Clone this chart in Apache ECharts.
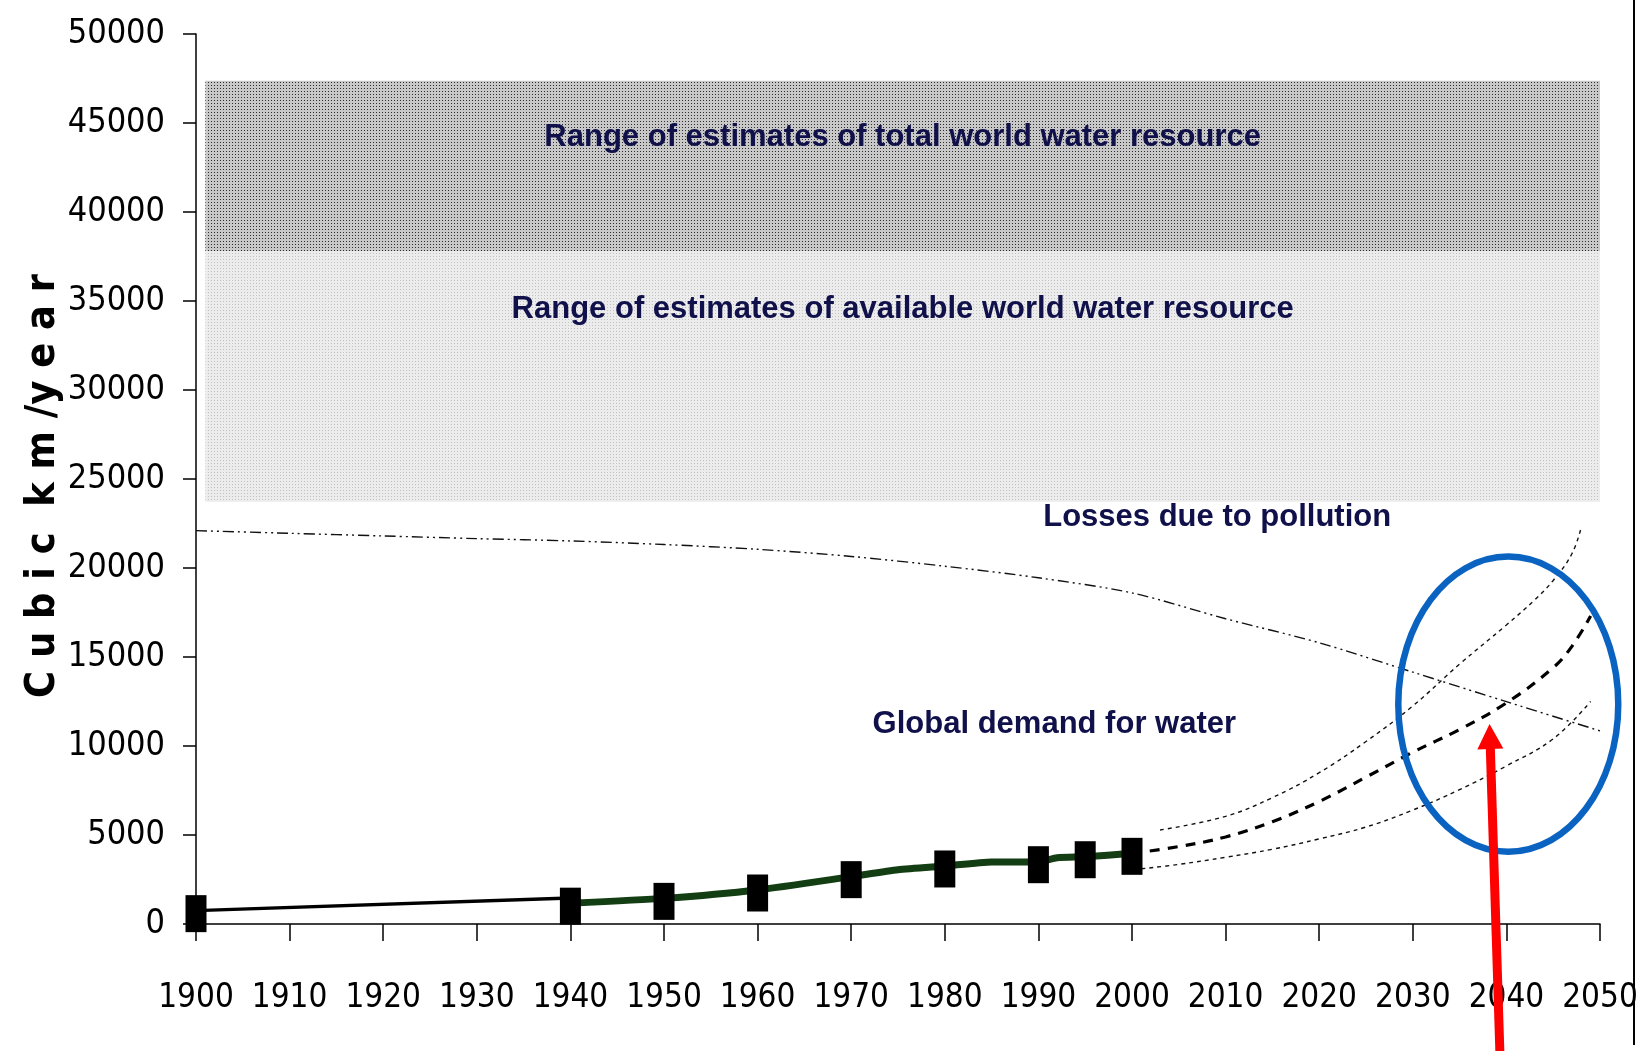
<!DOCTYPE html>
<html>
<head>
<meta charset="utf-8">
<script src="https://cdn.jsdelivr.net/npm/echarts@6/dist/echarts.min.js"></script>
<style>
html,body{margin:0;padding:0;background:#fff;}
#chart{width:1636px;height:1051px;}
</style>
</head>
<body>
<div id="chart"></div>
<script>
// ---------- data ----------
const xTickLabels = ['1900','1910','1920','1930','1940','1950','1960','1970','1980','1990','2000','2010','2020','2030','2040','2050'];
const yTickLabels = ['0','5000','10000','15000','20000','25000','30000','35000','40000','45000','50000'];

// range bands [fromYear, toYear, low, high]
const totalResourceBand = [1901, 2050, 37790, 47370];
const availableResourceBand = [1901, 2050, 23720, 37790];

// observed global demand (markers)
const obsYears = [1900, 1940, 1950, 1960, 1970, 1980, 1990, 1995, 2000];
const obsDemand = [750, 1170, 1440, 1910, 2660, 3260, 3500, 3780, 3970];

// early thin line 1900-1940
const earlyYears = [1900, 1940];
const earlyDemand = [750, 1460];

// thick observed line 1940-2000
const histYears = [1940, 1950, 1960, 1970, 1975, 1980, 1985, 1990, 1992, 1995, 2000];
const histDemand = [1170, 1440, 1910, 2660, 3050, 3260, 3480, 3500, 3720, 3780, 3970];

// projections
const midYears = [2000, 2005, 2010, 2015, 2020, 2025, 2030, 2035, 2040, 2045, 2047, 2049];
const midDemand = [3970, 4350, 4890, 5750, 6880, 8250, 9650, 10930, 12420, 14400, 15600, 17300];
const highYears = [2003, 2010, 2015, 2020, 2025, 2030, 2035, 2040, 2043, 2045, 2047, 2048];
const highDemand = [5280, 6050, 7100, 8500, 10250, 12250, 14600, 16800, 18200, 19300, 20800, 22300];
const lowYears = [2001, 2005, 2010, 2015, 2020, 2025, 2030, 2035, 2040, 2045, 2049];
const lowDemand = [3100, 3350, 3750, 4200, 4780, 5450, 6400, 7550, 8880, 10400, 12500];

// losses due to pollution
const pollYears = [1900, 1910, 1920, 1930, 1940, 1950, 1960, 1970, 1980, 1990, 2000, 2010, 2020, 2030, 2040, 2050];
const pollValues = [22100, 21950, 21800, 21650, 21520, 21320, 21050, 20650, 20100, 19450, 18600, 17150, 15800, 14150, 12490, 10850];

// text annotations
const noteYears = [1975.5, 1975.5, 2009.1, 1991.7];
const noteValues = [44200, 34550, 22840, 11230];
const noteTexts = [
  'Range of estimates of total world water resource',
  'Range of estimates of available world water resource',
  'Losses due to pollution',
  'Global demand for water'
];

// highlight ellipse (data coords) and arrow
const ellipseCenter = [2040.2, 12350];
const ellipseRadius = [11.75, 8290];
const arrowTip = [2038.2, 11236];
const arrowBase = [2039.3, -7140];

// ---------- helpers ----------
function zip(xs, ys) { return xs.map((x, i) => [x, ys[i]]); }
function makePattern(bg, dot, period, dotSize) {
  const c = document.createElement('canvas');
  c.width = period; c.height = period;
  const ctx = c.getContext('2d');
  ctx.fillStyle = bg; ctx.fillRect(0, 0, period, period);
  ctx.fillStyle = dot; ctx.fillRect(1, 1, dotSize, dotSize);
  return { image: c, repeat: 'repeat' };
}

const narrow = '"DejaVu Sans", sans-serif';
const textColor = '#10104a';

const chart = echarts.init(document.getElementById('chart'), null, { renderer: 'canvas' });

const option = {
  backgroundColor: '#ffffff',
  animation: false,
  grid: { left: 196, right: 36, top: 34, bottom: 127, containLabel: false, outerBoundsMode: 'none' },
  xAxis: {
    type: 'value', min: 1900, max: 2050, interval: 10,
    axisLine: { show: true, onZero: false, lineStyle: { color: '#000', width: 1.5 } },
    axisTick: { show: true, length: 17, inside: false, lineStyle: { color: '#000', width: 1.5 } },
    splitLine: { show: false },
    axisLabel: {
      margin: 58, color: '#000', fontSize: 33, fontFamily: narrow, fontStyle: 'condensed',
      formatter: v => xTickLabels[Math.round((v - 1900) / 10)]
    }
  },
  yAxis: {
    type: 'value', min: 0, max: 50000, interval: 5000,
    name: 'C u b i c  k m /y e a r', nameLocation: 'middle', nameGap: 132, nameRotate: 90,
    nameMoveOverlap: false,
    nameTextStyle: { fontSize: 41, fontWeight: 'bold', fontStyle: 'condensed', color: '#000', fontFamily: narrow, padding: [0, 14, 0, 0] },
    axisLine: { show: true, lineStyle: { color: '#000', width: 1.5 } },
    axisTick: { show: true, length: 13, lineStyle: { color: '#000', width: 1.5 } },
    splitLine: { show: false },
    axisLabel: {
      margin: 31, color: '#000', fontSize: 34, fontFamily: narrow, fontStyle: 'condensed',
      formatter: v => yTickLabels[Math.round(v / 5000)]
    }
  },
  series: [
    {
      name: 'bands', type: 'line', data: [], silent: true,
      markArea: {
        silent: true,
        label: { show: false },
        data: [
          [
            { xAxis: totalResourceBand[0], yAxis: totalResourceBand[2], itemStyle: { color: makePattern('#c8c8c8', '#2c2c2c', 3, 1), opacity: 1 } },
            { xAxis: totalResourceBand[1], yAxis: totalResourceBand[3] }
          ],
          [
            { xAxis: availableResourceBand[0], yAxis: availableResourceBand[2], itemStyle: { color: makePattern('#ececec', '#c0c0c0', 3, 1), opacity: 1 } },
            { xAxis: availableResourceBand[1], yAxis: availableResourceBand[3] }
          ]
        ]
      }
    },
    {
      name: 'Losses due to pollution', type: 'line', data: zip(pollYears, pollValues),
      smooth: 0.3, showSymbol: false, symbol: 'none', silent: true,
      lineStyle: { color: '#111', width: 1.4, type: [11, 4, 2, 4, 2, 4] }
    },
    {
      name: 'early', type: 'line', data: zip(earlyYears, earlyDemand),
      symbol: 'none', silent: true, lineStyle: { color: '#000', width: 3.3 }
    },
    {
      name: 'Global demand for water', type: 'line', data: zip(histYears, histDemand),
      symbol: 'none', silent: true, smooth: 0.2, lineStyle: { color: '#133d13', width: 7 }
    },
    {
      name: 'projection high', type: 'line', data: zip(highYears, highDemand),
      smooth: 0.4, symbol: 'none', silent: true,
      lineStyle: { color: '#111', width: 1.4, type: [4, 4] }
    },
    {
      name: 'projection low', type: 'line', data: zip(lowYears, lowDemand),
      smooth: 0.4, symbol: 'none', silent: true,
      lineStyle: { color: '#111', width: 1.4, type: [4, 4] }
    },
    {
      name: 'projection mid', type: 'line', data: zip(midYears, midDemand),
      smooth: 0.4, symbol: 'none', silent: true,
      lineStyle: { color: '#000', width: 3.2, type: [10, 8] }
    },
    {
      name: 'observed', type: 'scatter', data: zip(obsYears, obsDemand),
      symbol: 'rect', symbolSize: [21, 37], symbolOffset: [0, 3], silent: true,
      itemStyle: { color: '#000', opacity: 1 }, z: 5
    },
    {
      name: 'notes', type: 'scatter', silent: true, symbolSize: 0,
      itemStyle: { opacity: 1 },
      data: noteYears.map((x, i) => ({ value: [x, noteValues[i]], name: noteTexts[i] })),
      label: {
        show: true, position: 'inside', formatter: '{b}',
        fontFamily: '"Liberation Sans", Arial, sans-serif', fontWeight: 'bold',
        fontSize: 31, color: textColor, textBorderWidth: 0
      },
      z: 6
    }
  ]
};

chart.setOption(option);

function px(p) { return chart.convertToPixel({ gridIndex: 0 }, p); }
const c = px(ellipseCenter);
const edge = px([ellipseCenter[0] + ellipseRadius[0], ellipseCenter[1] + ellipseRadius[1]]);
const rx = Math.abs(edge[0] - c[0]);
const ry = Math.abs(c[1] - edge[1]);
const tip = px(arrowTip);
const base = px(arrowBase);
const headLen = 25, headHalf = 13;
const dx = tip[0] - base[0], dy = tip[1] - base[1];
const len = Math.sqrt(dx * dx + dy * dy);
const ux = dx / len, uy = dy / len;
const hb = [tip[0] - ux * headLen, tip[1] - uy * headLen];
const nx = -uy, ny = ux;

chart.setOption({
  graphic: [
    {
      type: 'ellipse', silent: true, z: 100,
      shape: { cx: c[0], cy: c[1], rx: rx, ry: ry },
      style: { fill: 'none', stroke: '#0b63c1', lineWidth: 6.5 }
    },
    {
      type: 'line', silent: true, z: 101,
      shape: { x1: base[0], y1: base[1], x2: hb[0] + ux * 2, y2: hb[1] + uy * 2 },
      style: { stroke: '#ff0000', lineWidth: 9 }
    },
    {
      type: 'polygon', silent: true, z: 101,
      shape: { points: [tip, [hb[0] + nx * headHalf, hb[1] + ny * headHalf], [hb[0] - nx * headHalf, hb[1] - ny * headHalf]] },
      style: { fill: '#ff0000' }
    },
    {
      type: 'rect', silent: true, z: 100,
      shape: { x: 1633, y: 0, width: 2, height: 1045 },
      style: { fill: '#000' }
    }
  ]
});
</script>
</body>
</html>
